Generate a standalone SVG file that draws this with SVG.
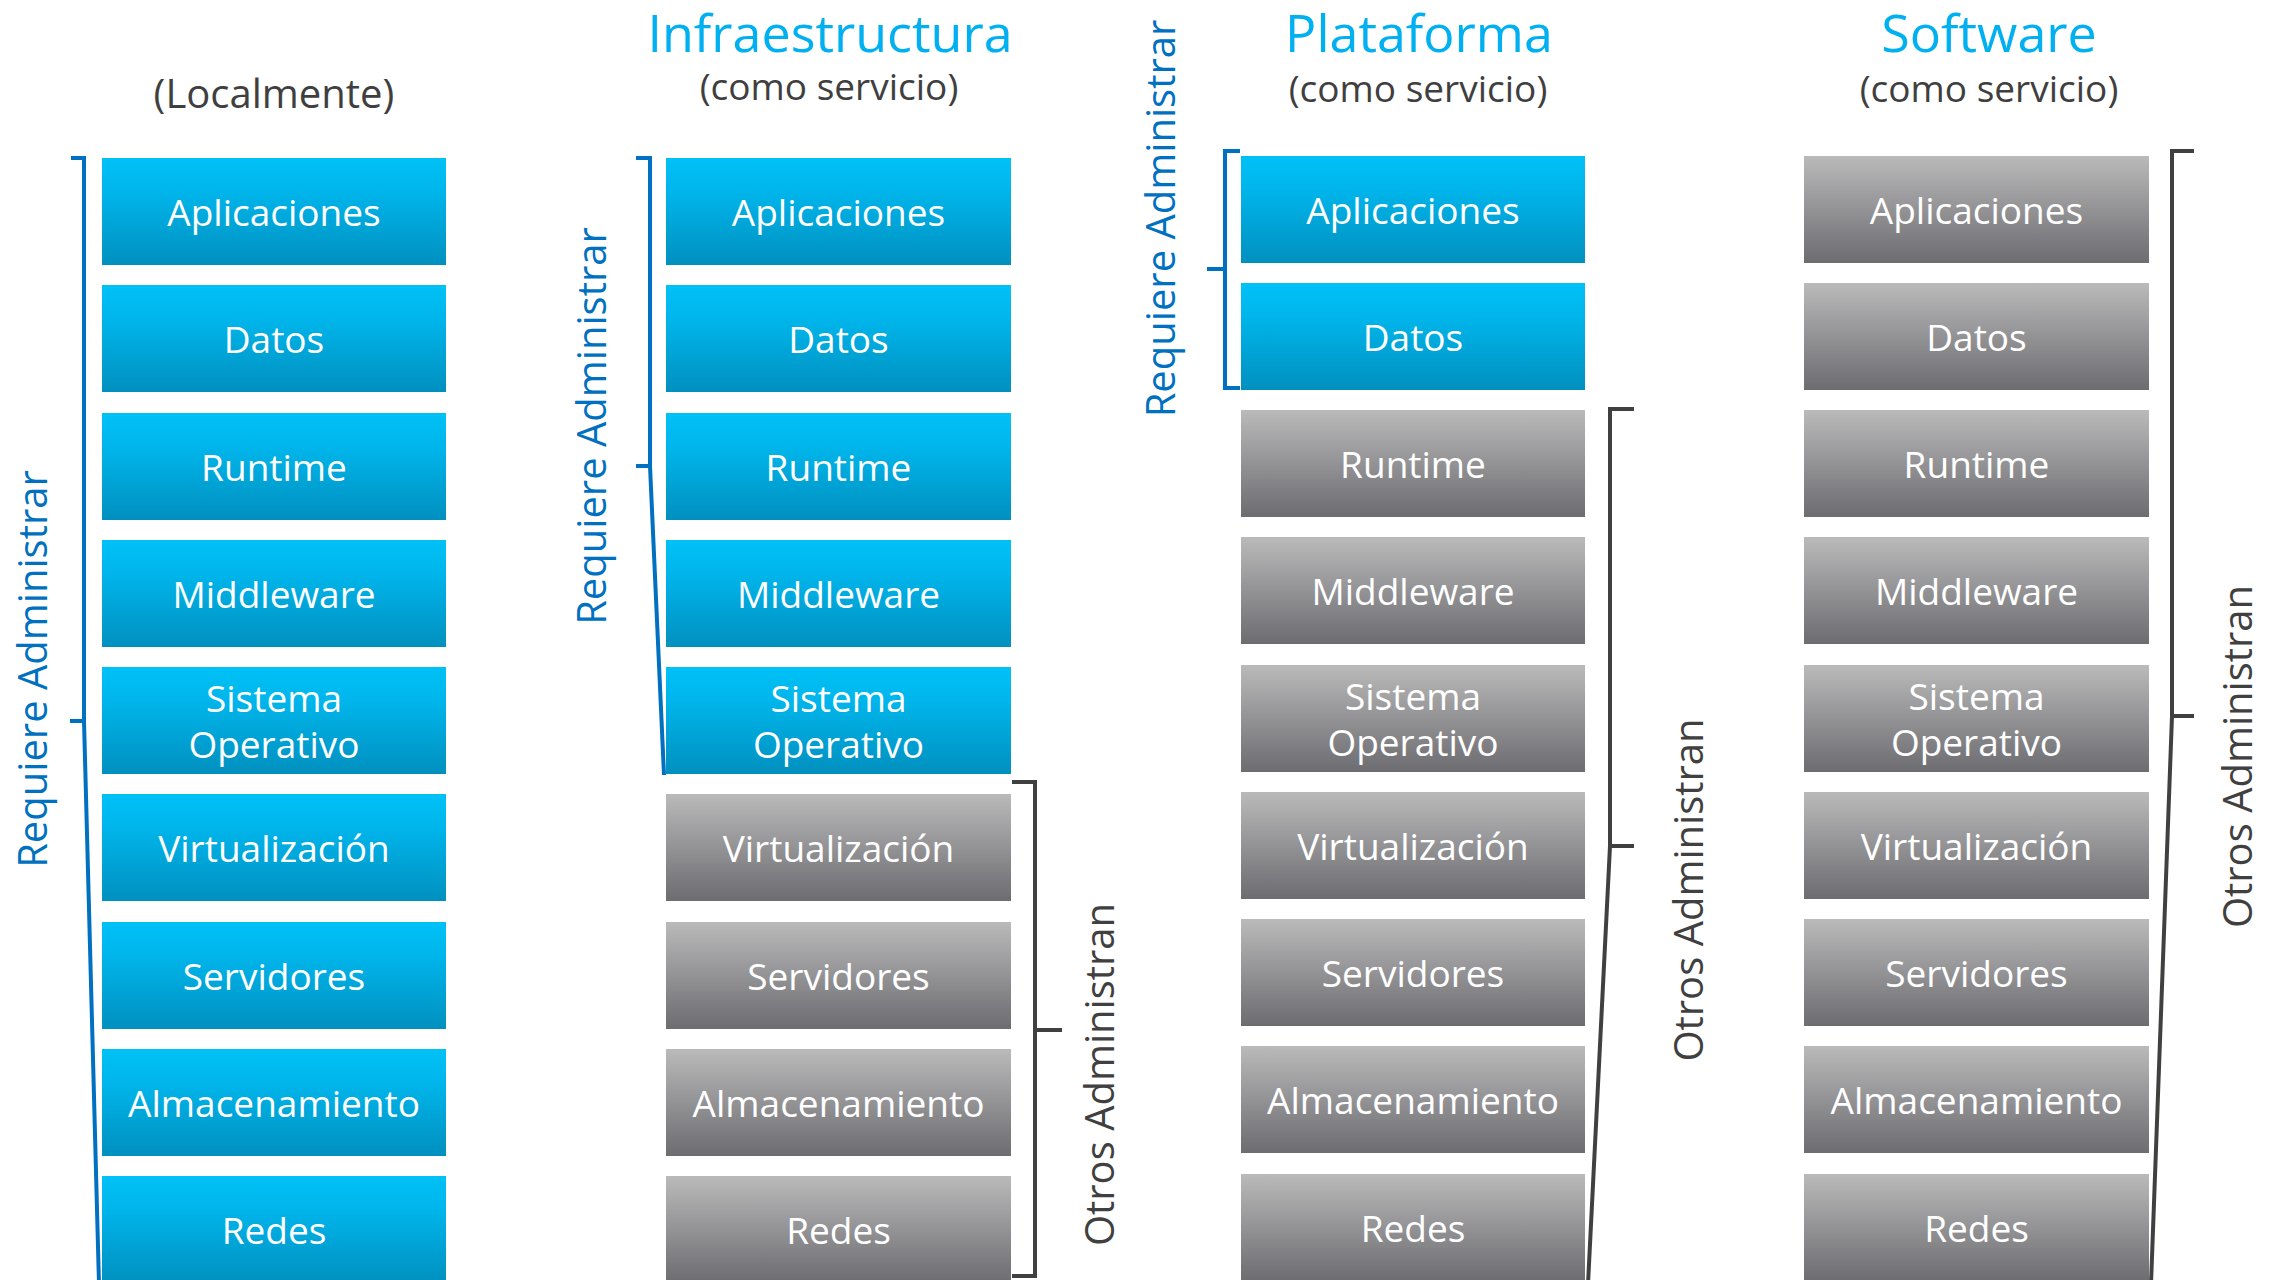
<svg xmlns="http://www.w3.org/2000/svg" width="2279" height="1280" viewBox="0 0 2279 1280">
<defs>
<linearGradient id="gBlue" x1="0" y1="0" x2="0" y2="1">
<stop offset="0" stop-color="#00C1F6"/>
<stop offset="0.3" stop-color="#00B6EC"/>
<stop offset="1" stop-color="#0090BF"/>
</linearGradient>
<linearGradient id="gGray" x1="0" y1="0" x2="0" y2="1">
<stop offset="0" stop-color="#BABABA"/>
<stop offset="1" stop-color="#6C6C71"/>
</linearGradient>
</defs>
<style>
.blue{fill:url(#gBlue)}
.gray{fill:url(#gGray)}
.lbl{font-family:"Open Sans","Noto Sans","Liberation Sans",sans-serif;font-size:37px;fill:#FFFFFF;text-anchor:middle}
.title{font-family:"Open Sans","Noto Sans","Liberation Sans",sans-serif;font-size:52px;fill:#00B0F0;text-anchor:middle}
.sub{font-family:"Open Sans","Noto Sans","Liberation Sans",sans-serif;font-size:37px;fill:#3F3F3F;text-anchor:middle}
.loc{font-size:40px}
.side{font-family:"Open Sans","Noto Sans","Liberation Sans",sans-serif;font-size:40px;text-anchor:middle}
.sb{fill:#0070C0}
.sg{fill:#404040}
.br{fill:none;stroke-width:4;stroke-linejoin:miter;stroke-linecap:butt}
.bb{stroke:#0070C0}
.bg{stroke:#404040}
</style>

<g id="headings">
<text class="sub loc" x="274" y="108">(Localmente)</text>
<text class="title" x="830" y="52">Infraestructura</text>
<text class="sub" x="829" y="100">(como servicio)</text>
<text class="title" x="1419" y="52">Plataforma</text>
<text class="sub" x="1418" y="102">(como servicio)</text>
<text class="title" x="1989" y="52">Software</text>
<text class="sub" x="1989" y="102">(como servicio)</text>
</g>

<!-- Column 1: Localmente -->
<g id="c1-aplicaciones"><rect class="blue" x="102" y="158" width="344" height="107"/><text class="lbl" x="274" y="226">Aplicaciones</text></g>
<g id="c1-datos"><rect class="blue" x="102" y="285" width="344" height="107"/><text class="lbl" x="274" y="353">Datos</text></g>
<g id="c1-runtime"><rect class="blue" x="102" y="413" width="344" height="107"/><text class="lbl" x="274" y="481">Runtime</text></g>
<g id="c1-middleware"><rect class="blue" x="102" y="540" width="344" height="107"/><text class="lbl" x="274" y="608">Middleware</text></g>
<g id="c1-so"><rect class="blue" x="102" y="667" width="344" height="107"/><text class="lbl" x="274" y="712">Sistema</text><text class="lbl" x="274" y="758">Operativo</text></g>
<g id="c1-virtualizacion"><rect class="blue" x="102" y="794" width="344" height="107"/><text class="lbl" x="274" y="862">Virtualización</text></g>
<g id="c1-servidores"><rect class="blue" x="102" y="922" width="344" height="107"/><text class="lbl" x="274" y="990">Servidores</text></g>
<g id="c1-almacenamiento"><rect class="blue" x="102" y="1049" width="344" height="107"/><text class="lbl" x="274" y="1117">Almacenamiento</text></g>
<g id="c1-redes"><rect class="blue" x="102" y="1176" width="344" height="107"/><text class="lbl" x="274" y="1244">Redes</text></g>

<!-- Column 2: IaaS -->
<g id="c2-aplicaciones"><rect class="blue" x="666" y="158" width="345" height="107"/><text class="lbl" x="838.5" y="226">Aplicaciones</text></g>
<g id="c2-datos"><rect class="blue" x="666" y="285" width="345" height="107"/><text class="lbl" x="838.5" y="353">Datos</text></g>
<g id="c2-runtime"><rect class="blue" x="666" y="413" width="345" height="107"/><text class="lbl" x="838.5" y="481">Runtime</text></g>
<g id="c2-middleware"><rect class="blue" x="666" y="540" width="345" height="107"/><text class="lbl" x="838.5" y="608">Middleware</text></g>
<g id="c2-so"><rect class="blue" x="666" y="667" width="345" height="107"/><text class="lbl" x="838.5" y="712">Sistema</text><text class="lbl" x="838.5" y="758">Operativo</text></g>
<g id="c2-virtualizacion"><rect class="gray" x="666" y="794" width="345" height="107"/><text class="lbl" x="838.5" y="862">Virtualización</text></g>
<g id="c2-servidores"><rect class="gray" x="666" y="922" width="345" height="107"/><text class="lbl" x="838.5" y="990">Servidores</text></g>
<g id="c2-almacenamiento"><rect class="gray" x="666" y="1049" width="345" height="107"/><text class="lbl" x="838.5" y="1117">Almacenamiento</text></g>
<g id="c2-redes"><rect class="gray" x="666" y="1176" width="345" height="107"/><text class="lbl" x="838.5" y="1244">Redes</text></g>

<!-- Column 3: PaaS -->
<g id="c3-aplicaciones"><rect class="blue" x="1241" y="156" width="344" height="107"/><text class="lbl" x="1413" y="224">Aplicaciones</text></g>
<g id="c3-datos"><rect class="blue" x="1241" y="283" width="344" height="107"/><text class="lbl" x="1413" y="351">Datos</text></g>
<g id="c3-runtime"><rect class="gray" x="1241" y="410" width="344" height="107"/><text class="lbl" x="1413" y="478">Runtime</text></g>
<g id="c3-middleware"><rect class="gray" x="1241" y="537" width="344" height="107"/><text class="lbl" x="1413" y="605">Middleware</text></g>
<g id="c3-so"><rect class="gray" x="1241" y="665" width="344" height="107"/><text class="lbl" x="1413" y="710">Sistema</text><text class="lbl" x="1413" y="756">Operativo</text></g>
<g id="c3-virtualizacion"><rect class="gray" x="1241" y="792" width="344" height="107"/><text class="lbl" x="1413" y="860">Virtualización</text></g>
<g id="c3-servidores"><rect class="gray" x="1241" y="919" width="344" height="107"/><text class="lbl" x="1413" y="987">Servidores</text></g>
<g id="c3-almacenamiento"><rect class="gray" x="1241" y="1046" width="344" height="107"/><text class="lbl" x="1413" y="1114">Almacenamiento</text></g>
<g id="c3-redes"><rect class="gray" x="1241" y="1174" width="344" height="107"/><text class="lbl" x="1413" y="1242">Redes</text></g>

<!-- Column 4: SaaS -->
<g id="c4-aplicaciones"><rect class="gray" x="1804" y="156" width="345" height="107"/><text class="lbl" x="1976.5" y="224">Aplicaciones</text></g>
<g id="c4-datos"><rect class="gray" x="1804" y="283" width="345" height="107"/><text class="lbl" x="1976.5" y="351">Datos</text></g>
<g id="c4-runtime"><rect class="gray" x="1804" y="410" width="345" height="107"/><text class="lbl" x="1976.5" y="478">Runtime</text></g>
<g id="c4-middleware"><rect class="gray" x="1804" y="537" width="345" height="107"/><text class="lbl" x="1976.5" y="605">Middleware</text></g>
<g id="c4-so"><rect class="gray" x="1804" y="665" width="345" height="107"/><text class="lbl" x="1976.5" y="710">Sistema</text><text class="lbl" x="1976.5" y="756">Operativo</text></g>
<g id="c4-virtualizacion"><rect class="gray" x="1804" y="792" width="345" height="107"/><text class="lbl" x="1976.5" y="860">Virtualización</text></g>
<g id="c4-servidores"><rect class="gray" x="1804" y="919" width="345" height="107"/><text class="lbl" x="1976.5" y="987">Servidores</text></g>
<g id="c4-almacenamiento"><rect class="gray" x="1804" y="1046" width="345" height="107"/><text class="lbl" x="1976.5" y="1114">Almacenamiento</text></g>
<g id="c4-redes"><rect class="gray" x="1804" y="1174" width="345" height="107"/><text class="lbl" x="1976.5" y="1242">Redes</text></g>

<!-- Brackets -->
<g id="connectors">
<path class="br bb" d="M71 158 H84 V721 L99 1284"/>
<path class="br bb" d="M70 721 H85"/>
<path class="br bb" d="M636 158 H650 V466 L664 775"/>
<path class="br bb" d="M636 466 H650"/>
<path class="br bb" d="M1240 151 H1225 V388 H1240"/>
<path class="br bb" d="M1207 269 H1225"/>
<path class="br bg" d="M1012 782 H1035 V1276 H1012"/>
<path class="br bg" d="M1035 1030 H1062"/>
<path class="br bg" d="M1634 409 H1610 V846 L1588 1284"/>
<path class="br bg" d="M1610 846 H1634"/>
<path class="br bg" d="M2194 151 H2172 V716 L2151 1284"/>
<path class="br bg" d="M2172 716 H2194"/>
</g>

<g id="side-labels">
<text class="side sb" transform="translate(47,669) rotate(-90)">Requiere Administrar</text>
<text class="side sb" transform="translate(606,426) rotate(-90)">Requiere Administrar</text>
<text class="side sb" transform="translate(1175,218.5) rotate(-90)">Requiere Administrar</text>
<text class="side sg" transform="translate(1114,1074.5) rotate(-90)">Otros Administran</text>
<text class="side sg" transform="translate(1703,890) rotate(-90)">Otros Administran</text>
<text class="side sg" transform="translate(2252,756.5) rotate(-90)">Otros Administran</text>
</g>
</svg>
